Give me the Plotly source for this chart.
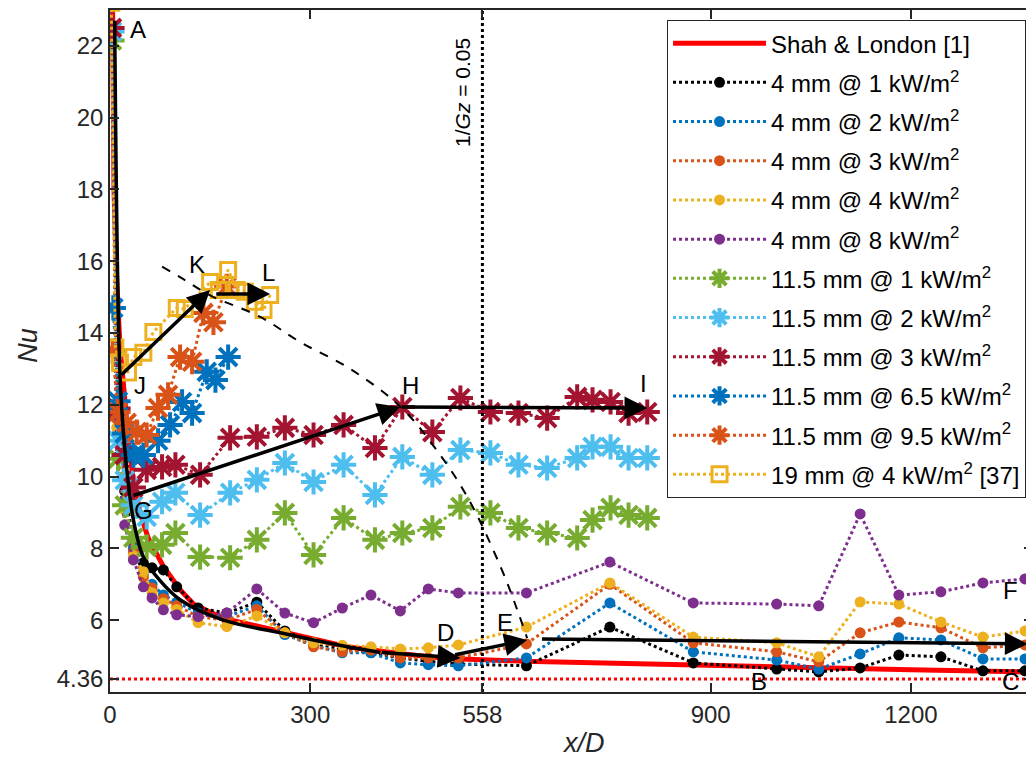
import plotly.graph_objects as go

# ---------------- data ----------------
X_RANGE = [0, 1383]
Y_RANGE = [4.0, 23.0]
X_TICKS = [0, 300, 558, 900, 1200]
Y_TICKS = [4.36, 6, 8, 10, 12, 14, 16, 18, 20, 22]
Y_TICKTEXT = ["4.36", "6", "8", "10", "12", "14", "16", "18", "20", "22"]
NU_FD = 4.36
GZ_X = 558

# Shah & London [1]
SL_X = [1, 3, 6, 10, 15, 21, 28, 35, 45, 57, 80, 105, 125, 170, 255, 355, 430, 505, 620, 750, 900, 1050, 1200, 1370]
SL_NU = [30, 23, 18, 15.5, 13.6, 12.4, 10.9, 9.9, 9.0, 8.3, 7.5, 6.85, 6.45, 6.05, 5.7, 5.26, 5.08, 4.93, 4.86, 4.8, 4.75, 4.68, 4.62, 4.56]

# 4 mm tube
X4 = [2, 10, 22, 35, 50, 63, 80, 100, 132, 175, 220, 262, 305, 348, 391, 435, 477, 522,
      624, 749, 874, 999, 1062, 1124, 1182, 1245, 1308, 1371]
NU4_1 = [24, 12.0, 9.6, 8.2, 7.6, 7.46, 7.4, 6.93, 6.34, 6.2, 6.5, 5.7, 5.35, 5.2, 5.1, 4.95, 4.85, 4.78,
         4.73, 5.81, 4.81, 4.64, 4.56, 4.67, 5.03, 4.98, 4.59, 4.59]
NU4_2 = [24, 11.8, 9.3, 8.0, 7.3, 7.0, 6.7, 6.5, 6.2, 6.1, 6.4, 5.6, 5.3, 5.09, 5.09, 4.81, 4.76, 4.73,
         4.95, 6.48, 5.12, 4.89, 4.64, 5.06, 5.51, 5.45, 4.92, 4.92]
NU4_3 = [24, 11.6, 9.2, 7.9, 7.2, 6.9, 6.6, 6.4, 6.1, 6.0, 6.3, 5.65, 5.26, 5.12, 5.17, 4.95, 4.95, 4.95,
         5.34, 7.0, 5.37, 5.12, 4.84, 5.65, 5.95, 5.79, 5.23, 5.31]
NU4_4 = [24, 11.36, 9.07, 7.8, 7.35, 6.76, 6.48, 6.3, 5.93, 5.82, 6.12, 5.65, 5.37, 5.3, 5.26, 5.2, 5.23, 5.31,
         5.81, 7.04, 5.53, 5.37, 4.98, 6.51, 6.45, 5.95, 5.53, 5.7]
NU4_8 = [24, 10.55, 8.65, 7.68, 6.93, 6.62, 6.29, 6.15, 6.1, 6.2, 6.87, 6.2, 5.93, 6.34, 6.7, 6.26, 6.87, 6.76,
         6.76, 7.62, 6.48, 6.45, 6.40, 8.96, 6.7, 6.79, 7.04, 7.15]

# 11.5 mm tube
X11 = [3, 12, 22, 35, 55, 78, 98, 135, 180, 220, 262, 305, 350, 397, 438, 483, 525, 570, 612, 655,
       700, 723, 750, 777, 805]
NU11_1 = [22.15, 10.5, 9.2, 8.3, 8.04, 8.1, 8.43, 7.76, 7.74, 8.24, 8.99, 7.82, 8.85, 8.24, 8.43, 8.57,
          9.16, 8.99, 8.57, 8.43, 8.29, 8.79, 9.13, 8.93, 8.85]
NU11_2 = [22.4, 11.0, 9.9, 9.2, 8.88, 9.3, 9.55, 8.93, 9.55, 9.91, 10.38, 9.85, 10.33, 9.49, 10.55, 10.05,
          10.74, 10.66, 10.33, 10.24, 10.52, 10.83, 10.83, 10.52, 10.52]
NU11_3 = [22.5, 11.9, 10.6, 9.7, 10.19, 10.27, 10.33, 10.05, 11.08, 11.11, 11.36, 11.16, 11.44, 10.8, 11.94,
          11.24, 12.19, 11.8, 11.77, 11.63, 12.22, 12.14, 12.08, 11.77, 11.8]
X11_65 = [5, 12, 22, 35, 50, 72, 90, 108, 123, 145, 158, 177]
NU11_65 = [14.7, 12.1, 11.2, 10.6, 10.6, 11.0, 11.44, 12.08, 11.77, 12.92, 12.69, 13.33]
X11_95 = [4, 12, 25, 40, 55, 72, 87, 105, 123, 140, 155, 175]
NU11_95 = [13.5, 11.8, 11.5, 11.24, 11.16, 11.91, 12.28, 13.33, 13.2, 14.56, 14.3, 15.3]

# 19 mm tube [37]
X19 = [2, 8, 15, 27, 35, 50, 65, 100, 112, 150, 163, 177, 190, 202, 217, 230, 240]
NU19 = [23.2, 13.6, 13.17, 12.9, 13.33, 13.45, 14.03, 14.7, 14.67, 15.42, 15.2, 15.76, 15.2, 15.15,
        14.87, 14.64, 15.06]

# annotation guides
CURVE_AD_X = [7, 15, 22, 27, 35, 50, 75, 105, 170, 255, 330, 405, 525]
CURVE_AD_NU = [22.7, 12.8, 10.8, 9.9, 8.8, 7.76, 7.1, 6.57, 6.0, 5.65, 5.35, 5.1, 4.95]
DASH_X = [78, 110, 150, 225, 285, 360, 435, 485, 535, 585, 610, 625]
DASH_NU = [15.85, 15.5, 15.05, 14.45, 13.75, 13.0, 11.95, 10.85, 9.45, 7.5, 6.3, 5.5]
ARROW_X0 = [15, 157, 33, 435, 515, 645, 405]
ARROW_Y0 = [12.8, 15.09, 9.46, 11.94, 5.03, 5.48, 5.1]
ARROW_X1 = [150, 240, 435, 805, 625, 1375, 525]
ARROW_Y1 = [15.2, 15.09, 11.94, 11.91, 5.45, 5.34, 4.95]
LETTERS = ["A", "B", "C", "D", "E", "F", "G", "H", "I", "J", "K", "L"]
LETTER_X = [42, 972, 1350, 502, 592, 1350, 50, 450, 800, 45, 130, 237]
LETTER_NU = [22.45, 4.3, 4.28, 5.65, 5.93, 6.84, 9.07, 12.55, 12.6, 12.55, 15.9, 15.7]
GZ_TEXT_X = 528
GZ_TEXT_NU = 20.7

# ---------------- figure ----------------
FONT = "Liberation Sans, Arial, sans-serif"
DARK = "#262626"
C_BLUE = "#0072BD"
C_ORANGE = "#D95319"
C_YELLOW = "#EDB120"
C_PURPLE = "#7E2F8E"
C_GREEN = "#77AC30"
C_LBLUE = "#4DBEEE"
C_DRED = "#A2142F"

fig = go.Figure()

fig.add_trace(go.Scatter(x=[X_RANGE[0], X_RANGE[1]], y=[NU_FD, NU_FD], mode="lines",
                         line=dict(color="red", width=3, dash="dot"), showlegend=False, hoverinfo="skip"))

fig.add_trace(go.Scatter(x=SL_X, y=SL_NU, mode="lines", name="Shah &amp; London [1]",
                         legendgroup="g0", line=dict(color="red", width=5)))

_g = [0]

def circ(x, y, color, name):
    _g[0] += 1
    fig.add_trace(go.Scatter(x=x, y=y, mode="lines+markers", name=name, legendgroup="g%d" % _g[0],
                             line=dict(color=color, width=3, dash="dot"),
                             marker=dict(symbol="circle", size=11, color=color)))

def star(x, y, color, name):
    _g[0] += 1
    fig.add_trace(go.Scatter(x=x, y=y, mode="lines+markers", name=name, legendgroup="g%d" % _g[0],
                             line=dict(color=color, width=3, dash="dot"),
                             marker=dict(symbol="asterisk-open", size=21, color=color,
                                         line=dict(color=color, width=4))))

circ(X4, NU4_1, "black", "4 mm @ 1 kW/m<sup>2</sup>")
circ(X4, NU4_2, C_BLUE, "4 mm @ 2 kW/m<sup>2</sup>")
circ(X4, NU4_3, C_ORANGE, "4 mm @ 3 kW/m<sup>2</sup>")
circ(X4, NU4_4, C_YELLOW, "4 mm @ 4 kW/m<sup>2</sup>")
circ(X4, NU4_8, C_PURPLE, "4 mm @ 8 kW/m<sup>2</sup>")
star(X11, NU11_1, C_GREEN, "11.5 mm @ 1 kW/m<sup>2</sup>")
star(X11, NU11_2, C_LBLUE, "11.5 mm @ 2 kW/m<sup>2</sup>")
star(X11, NU11_3, C_DRED, "11.5 mm @ 3 kW/m<sup>2</sup>")
star(X11_65, NU11_65, C_BLUE, "11.5 mm @ 6.5 kW/m<sup>2</sup>")
star(X11_95, NU11_95, C_ORANGE, "11.5 mm @ 9.5 kW/m<sup>2</sup>")
fig.add_trace(go.Scatter(x=X19, y=NU19, mode="lines+markers", name="19 mm @ 4 kW/m<sup>2</sup> [37]",
                         legendgroup="g99",
                         line=dict(color=C_YELLOW, width=3, dash="dot"),
                         marker=dict(symbol="square-open", size=15, color=C_YELLOW,
                                     line=dict(color=C_YELLOW, width=3))))

# guide lines
fig.add_trace(go.Scatter(x=[GZ_X, GZ_X], y=Y_RANGE, mode="lines", showlegend=False, hoverinfo="skip",
                         line=dict(color="black", width=3, dash="dot")))
fig.add_trace(go.Scatter(x=DASH_X, y=DASH_NU, mode="lines", showlegend=False, hoverinfo="skip",
                         line=dict(color="black", width=2, dash="dash", shape="spline")))
fig.add_trace(go.Scatter(x=CURVE_AD_X[:-1], y=CURVE_AD_NU[:-1], mode="lines", showlegend=False,
                         hoverinfo="skip", line=dict(color="black", width=3.5, shape="spline")))

for x0, y0, x1, y1 in zip(ARROW_X0, ARROW_Y0, ARROW_X1, ARROW_Y1):
    fig.add_annotation(x=x1, y=y1, ax=x0, ay=y0, xref="x", yref="y", axref="x", ayref="y",
                       text="", showarrow=True, arrowhead=2, arrowsize=1.3, arrowwidth=3.5,
                       arrowcolor="black", standoff=0, startstandoff=0)

for t, x, y in zip(LETTERS, LETTER_X, LETTER_NU):
    fig.add_annotation(x=x, y=y, xref="x", yref="y", text=t, showarrow=False,
                       font=dict(family=FONT, size=24, color="black"))

fig.add_annotation(x=GZ_TEXT_X, y=GZ_TEXT_NU, xref="x", yref="y", text="1/<i>Gz</i> = 0.05",
                   textangle=-90, showarrow=False, font=dict(family=FONT, size=21, color="black"))

# axis titles
fig.add_annotation(x=0.5125, y=-0.075, xref="paper", yref="paper", text="<i>x/D</i>", showarrow=False,
                   xanchor="center", yanchor="middle", font=dict(family=FONT, size=27, color=DARK))
fig.add_annotation(x=-0.089, y=0.509, xref="paper", yref="paper", text="<i>Nu</i>", showarrow=False,
                   xanchor="center", yanchor="middle", textangle=-90,
                   font=dict(family=FONT, size=27, color=DARK))

axis_common = dict(showline=True, linecolor=DARK, linewidth=1.5, mirror="ticks", ticks="inside",
                   ticklen=9, tickwidth=1.5, tickcolor=DARK, showgrid=False, zeroline=False,
                   automargin=False, tickfont=dict(family=FONT, size=24, color=DARK))

fig.update_xaxes(range=X_RANGE, tickvals=X_TICKS, ticktext=[str(v) for v in X_TICKS], **axis_common)
fig.update_yaxes(range=Y_RANGE, tickvals=Y_TICKS, ticktext=Y_TICKTEXT, **axis_common)

# page body has an 8px margin: size the figure so the plot area lands at 110..1033 x 10..692
fig.update_layout(
    width=1026, height=761,
    margin=dict(l=102, r=1, t=2, b=77),
    paper_bgcolor="white", plot_bgcolor="white",
    font=dict(family=FONT, size=24, color="black"),
    showlegend=True,
    legend=dict(x=0.6035, y=0.9853, xanchor="left", yanchor="top",
                bgcolor="white", bordercolor=DARK, borderwidth=1,
                font=dict(family=FONT, size=24, color="black"),
                itemwidth=93, tracegroupgap=5),
)

fig.write_html("out.html")
